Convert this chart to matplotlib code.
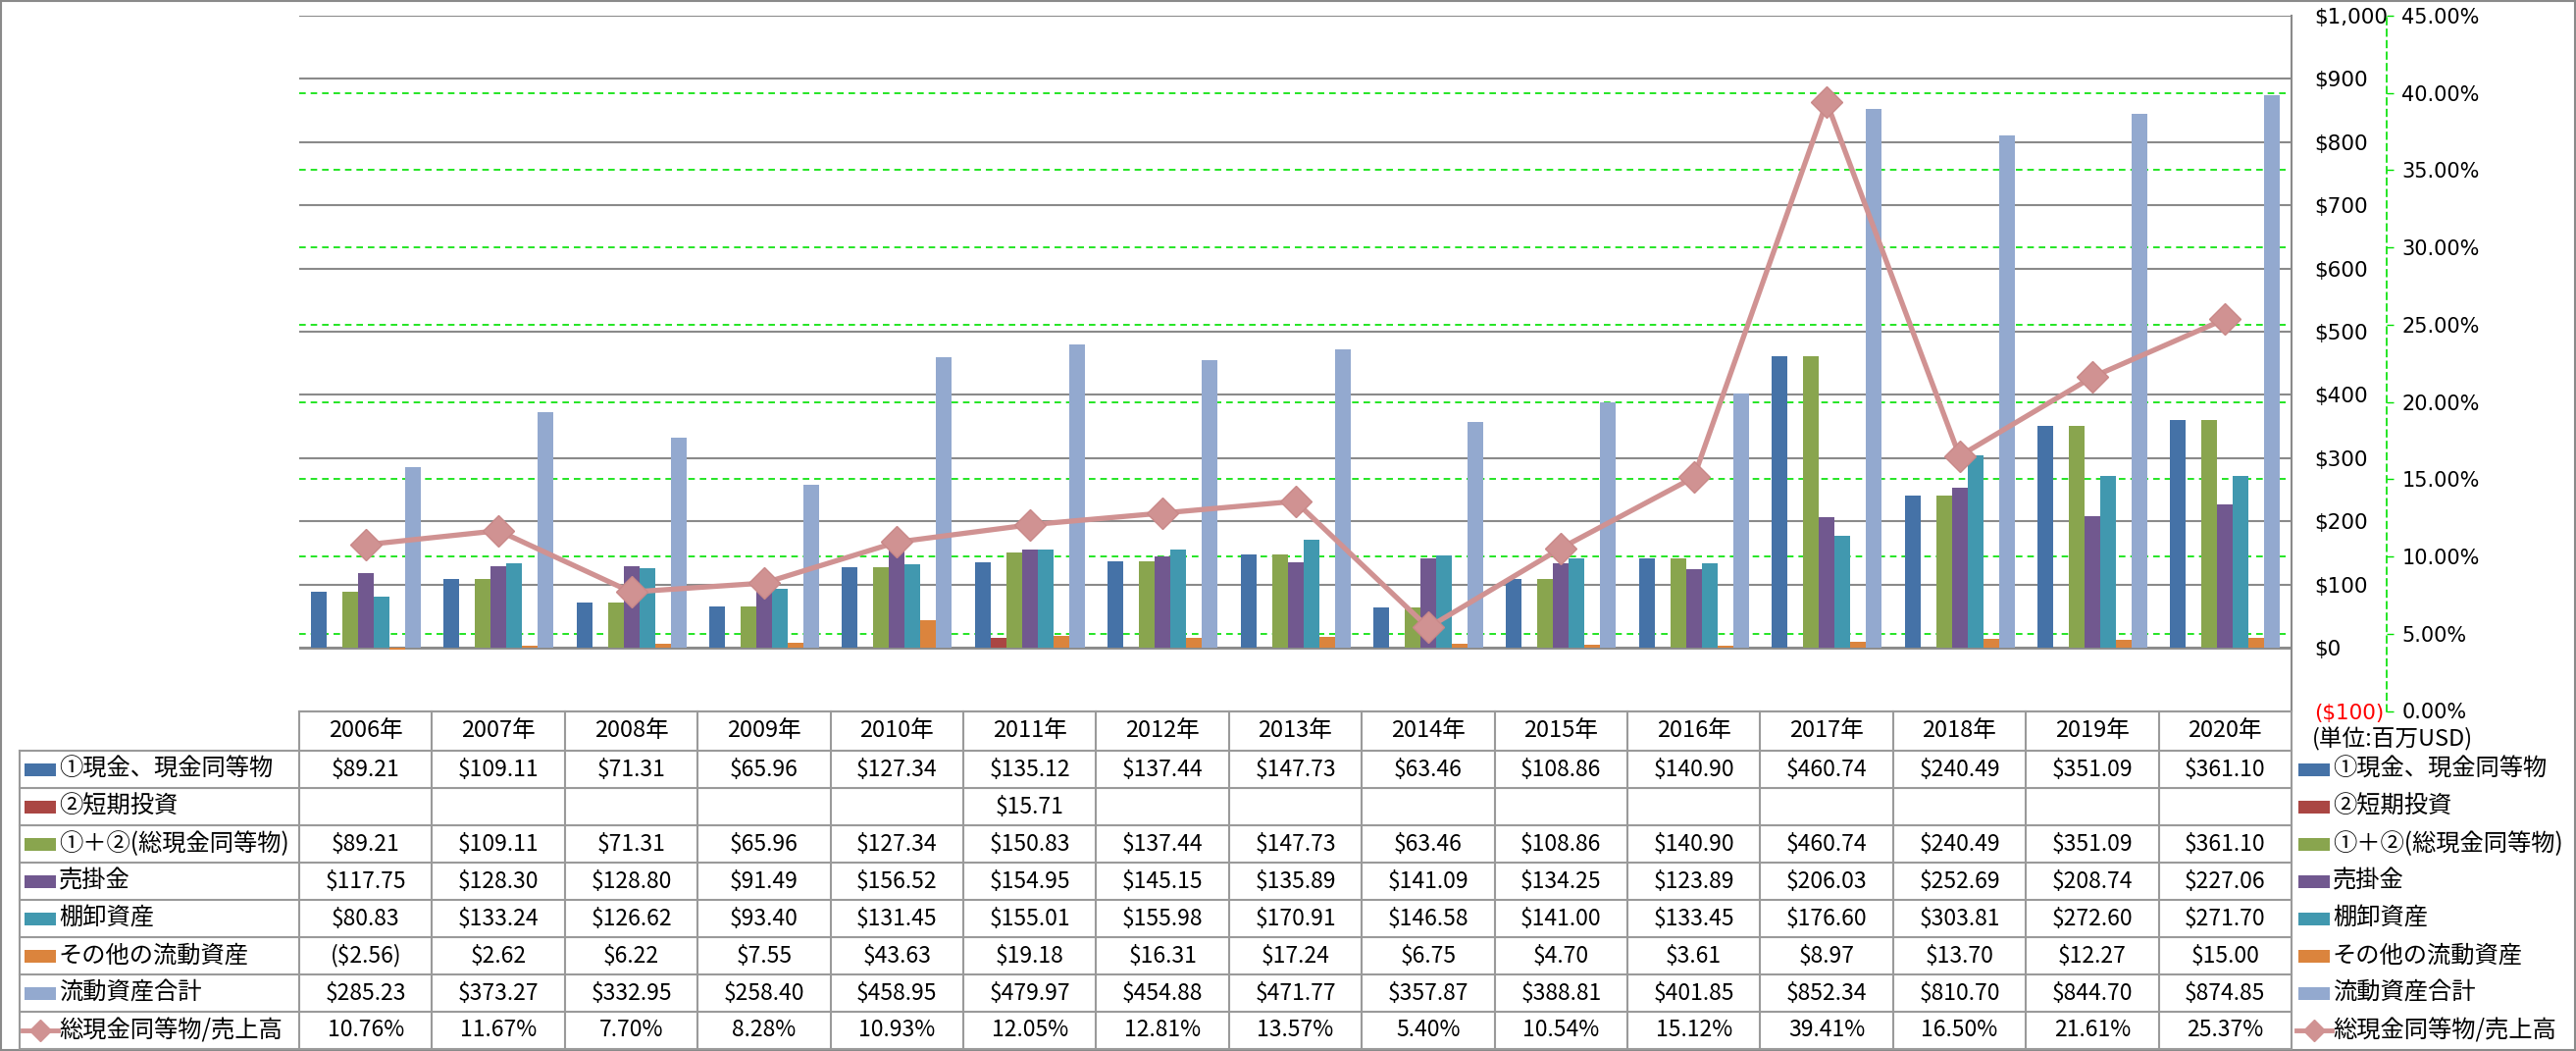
import matplotlib
matplotlib.use('Agg')
import matplotlib.pyplot as plt
import matplotlib.transforms as mtransforms
from matplotlib.patches import Rectangle
from matplotlib.lines import Line2D
import numpy as np

years = ['2006年', '2007年', '2008年', '2009年', '2010年', '2011年', '2012年', '2013年',
         '2014年', '2015年', '2016年', '2017年', '2018年', '2019年', '2020年']

cash = [89.21, 109.11, 71.31, 65.96, 127.34, 135.12, 137.44, 147.73, 63.46, 108.86,
        140.90, 460.74, 240.49, 351.09, 361.10]
short_inv = [None, None, None, None, None, 15.71, None, None, None, None,
             None, None, None, None, None]
total_cash = [89.21, 109.11, 71.31, 65.96, 127.34, 150.83, 137.44, 147.73, 63.46, 108.86,
              140.90, 460.74, 240.49, 351.09, 361.10]
receivables = [117.75, 128.30, 128.80, 91.49, 156.52, 154.95, 145.15, 135.89, 141.09, 134.25,
               123.89, 206.03, 252.69, 208.74, 227.06]
inventory = [80.83, 133.24, 126.62, 93.40, 131.45, 155.01, 155.98, 170.91, 146.58, 141.00,
             133.45, 176.60, 303.81, 272.60, 271.70]
other = [-2.56, 2.62, 6.22, 7.55, 43.63, 19.18, 16.31, 17.24, 6.75, 4.70,
         3.61, 8.97, 13.70, 12.27, 15.00]
total_current = [285.23, 373.27, 332.95, 258.40, 458.95, 479.97, 454.88, 471.77, 357.87, 388.81,
                 401.85, 852.34, 810.70, 844.70, 874.85]
cash_ratio = [10.76, 11.67, 7.70, 8.28, 10.93, 12.05, 12.81, 13.57, 5.40, 10.54,
              15.12, 39.41, 16.50, 21.61, 25.37]

bar_names = ['①現金、現金同等物', '②短期投資', '①＋②(総現金同等物)', '売掛金',
             '棚卸資産', 'その他の流動資産', '流動資産合計']
line_name = '総現金同等物/売上高'
bar_colors = ['#4572A7', '#AA4643', '#89A54E', '#71588F', '#4198AF', '#DB843D', '#93A9CF']
line_color = '#D09292'

usd_ticks = list(range(-100, 1001, 100))
pct_ticks = [i * 0.05 for i in range(10)]

W, H = 2626, 1071
PL, PR, PT, PB = 305, 2336, 16, 724.5
ROW_TOP, ROW_H = 765, 38
GRAY = '#8a8a8a'
GREEN = '#00E000'
JP = ['Noto Sans CJK JP', 'DejaVu Sans']


def money(v):
    if v is None:
        return ''
    if v < 0:
        return '(${:,.2f})'.format(-v)
    return '${:,.2f}'.format(v)


def main():
    fig = plt.figure(figsize=(W / 100, H / 100), dpi=100)
    ax = fig.add_axes([PL / W, 1 - PB / H, (PR - PL) / W, (PB - PT) / H])
    ax2 = ax.twinx()

    n = len(years)
    x = np.arange(n)
    col_w = (PR - PL) / n
    bw = 16 / col_w

    series = [cash, short_inv, total_cash, receivables, inventory, other, total_current]
    for i, vals in enumerate(series):
        h = [0 if v is None else v for v in vals]
        ax.bar(x + (i - 3) * bw, h, bw, color=bar_colors[i], zorder=2, linewidth=0)

    ax.set_xlim(-0.5, n - 0.5)
    ax.set_ylim(-100, 1000)
    ax.set_xticks([])
    ax.set_yticks(usd_ticks)
    labels = ['(${:,})'.format(-t) if t < 0 else '${:,}'.format(t) for t in usd_ticks]
    ax.set_yticklabels(labels)
    ax.yaxis.tick_right()
    ax.tick_params(axis='y', length=0, pad=17, labelsize=15.5)
    ax.get_yticklabels()[0].set_color('red')
    ax.yaxis.grid(True, color=GRAY, lw=1.5)
    ax.set_axisbelow(True)
    ax.axhline(0, color=GRAY, lw=2, zorder=1.5)
    for s in ['left', 'top', 'bottom']:
        ax.spines[s].set_visible(False)
    ax.spines['right'].set_color(GRAY)
    ax.spines['right'].set_linewidth(1.5)

    # secondary axis gridlines drawn under the bars
    tr = mtransforms.blended_transform_factory(ax.transAxes, ax2.transData)
    for v in pct_ticks[1:-1]:
        ax.add_line(Line2D([0, 1], [v, v], transform=tr, color=GREEN, lw=1.2,
                           linestyle=(0, (4, 3)), zorder=1))

    ax2.plot(x, [r / 100 for r in cash_ratio], color=line_color, lw=3.8, marker='D',
             ms=16, mec='#C98888', mew=1, zorder=5)
    ax2.set_ylim(0, 0.45)
    ax2.set_yticks(pct_ticks)
    ax2.set_yticklabels(['{:.2f}%'.format(v * 100) for v in pct_ticks])
    ax2.spines['right'].set_position(('axes', (2433 - PL) / (PR - PL)))
    ax2.spines['right'].set_color(GREEN)
    ax2.spines['right'].set_linestyle((0, (4, 3)))
    ax2.spines['right'].set_linewidth(1.2)
    for s in ['left', 'top', 'bottom']:
        ax2.spines[s].set_visible(False)
    ax2.tick_params(axis='y', color=GREEN, labelcolor='black', length=5, width=1,
                    pad=6, labelsize=15)
    ax.set_xlim(-0.5, n - 0.5)
    ax.set_ylim(-100, 1000)

    # data table and legend, drawn in pixel space
    ov = fig.add_axes([0, 0, 1, 1])
    ov.set_xlim(0, W)
    ov.set_ylim(H, 0)
    ov.axis('off')

    rows = [[money(v) for v in s] for s in series]
    rows.append(['{:.2f}%'.format(v) for v in cash_ratio])
    names = bar_names + [line_name]
    bottom = ROW_TOP + ROW_H * len(rows)
    tcol = '#9a9a9a'

    ov.plot([PL, PR], [PB, PB], color=tcol, lw=1.5)
    for k in range(len(rows) + 1):
        yy = ROW_TOP + k * ROW_H
        ov.plot([20, PR], [yy, yy], color=tcol, lw=1.5)
    for k in range(n + 1):
        xx = PL + k * col_w
        ov.plot([xx, xx], [PB, bottom], color=tcol, lw=1.5)
    ov.plot([20, 20], [ROW_TOP, bottom], color=tcol, lw=1.5)

    for k, yr in enumerate(years):
        ov.text(PL + (k + 0.5) * col_w, (PB + ROW_TOP) / 2, yr, ha='center', va='center',
                fontsize=17, family=JP)

    for r, (name, vals) in enumerate(zip(names, rows)):
        yc = ROW_TOP + (r + 0.5) * ROW_H
        for k, s in enumerate(vals):
            ov.text(PL + (k + 0.5) * col_w, yc, s, ha='center', va='center',
                    fontsize=16.5, family=JP)
        for x0 in (25, 2343):
            if r < len(bar_colors):
                ov.add_patch(Rectangle((x0, yc - 6.5), 32, 13, color=bar_colors[r], lw=0))
            else:
                ov.plot([x0 - 2, x0 + 34], [yc, yc], color=line_color, lw=3.5)
                ov.plot([x0 + 16], [yc], marker='D', ms=11, color=line_color)
            ov.text(x0 + 35, yc, name, ha='left', va='center', fontsize=17.5, family=JP)

    ov.text(2357, 753, '(単位:百万USD)', ha='left', va='center', fontsize=17, family=JP)
    ov.add_patch(Rectangle((1, 1), W - 2, H - 2, fill=False, edgecolor=GRAY, lw=1.5))

    fig.savefig('out.png', dpi=100)


if __name__ == "__main__":
    main()
